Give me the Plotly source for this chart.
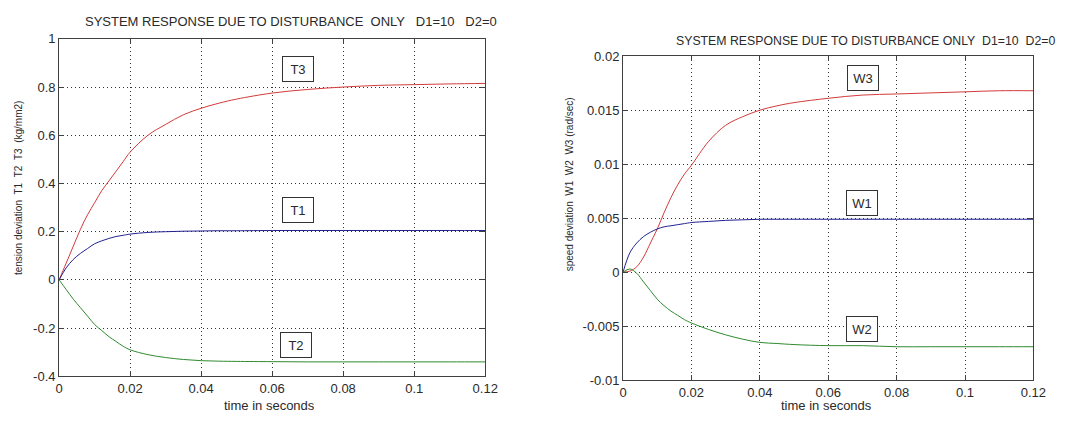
import plotly.graph_objects as go

# ---------------- data ----------------
t = [0, 0.002, 0.004, 0.006, 0.008, 0.01, 0.012, 0.014, 0.016, 0.018, 0.02,
     0.025, 0.03, 0.035, 0.04, 0.045, 0.05, 0.06, 0.07, 0.08, 0.09, 0.1, 0.11, 0.12]

T3 = [0, 0.07, 0.14, 0.21, 0.27, 0.32, 0.37, 0.41, 0.45, 0.49, 0.53,
      0.60, 0.645, 0.685, 0.712, 0.733, 0.75, 0.775, 0.79, 0.80, 0.807, 0.81, 0.813, 0.815]
T1 = [0, 0.05, 0.085, 0.11, 0.13, 0.15, 0.162, 0.172, 0.18, 0.185, 0.19,
      0.197, 0.2, 0.202, 0.203, 0.204, 0.204, 0.205, 0.205, 0.205, 0.205, 0.205, 0.205, 0.205]
T2 = [0, -0.04, -0.08, -0.115, -0.15, -0.185, -0.21, -0.235, -0.255, -0.275, -0.29,
      -0.31, -0.322, -0.33, -0.335, -0.337, -0.338, -0.339, -0.34, -0.34, -0.34, -0.34, -0.34, -0.34]

W3 = [0, 0.0001, 0.0005, 0.0014, 0.0027, 0.0040, 0.0055, 0.0069, 0.0081, 0.0091, 0.0099,
      0.0121, 0.0136, 0.0144, 0.0150, 0.0154, 0.0157, 0.0161, 0.0164, 0.0165, 0.0166, 0.0167, 0.0168, 0.0168]
W1 = [0, 0.0018, 0.0027, 0.0033, 0.0037, 0.0040, 0.0042, 0.0043, 0.0044, 0.0045, 0.0046,
      0.0047, 0.0048, 0.00485, 0.0049, 0.0049, 0.0049, 0.0049, 0.0049, 0.0049, 0.0049, 0.0049, 0.0049, 0.0049]
W2 = [0, 0.0003, -0.0001, -0.0009, -0.0017, -0.0025, -0.0031, -0.0036, -0.0040, -0.0044, -0.0047,
      -0.0053, -0.0058, -0.0062, -0.0065, -0.0066, -0.0067, -0.0068, -0.0068, -0.0069, -0.0069, -0.0069, -0.0069, -0.0069]

x_ticks = [0, 0.02, 0.04, 0.06, 0.08, 0.1, 0.12]
x_ticktext = ["0", "0.02", "0.04", "0.06", "0.08", "0.1", "0.12"]
yL_ticks = [-0.4, -0.2, 0, 0.2, 0.4, 0.6, 0.8, 1]
yL_ticktext = ["-0.4", "-0.2", "0", "0.2", "0.4", "0.6", "0.8", "1"]
yR_ticks = [-0.01, -0.005, 0, 0.005, 0.01, 0.015, 0.02]
yR_ticktext = ["-0.01", "-0.005", "0", "0.005", "0.01", "0.015", "0.02"]

RED, BLUE, GREEN = "#d23a3a", "#22228f", "#2f8a2f"
W, H = 1073, 421
FONT = "Liberation Sans, Arial, sans-serif"
TXT = "#2a2a2a"

fig = go.Figure()
for y, c in [(T3, RED), (T1, BLUE), (T2, GREEN)]:
    fig.add_trace(go.Scatter(x=t, y=y, mode="lines", line=dict(color=c, width=1),
                             line_shape="spline", xaxis="x", yaxis="y", showlegend=False))
for y, c in [(W3, RED), (W1, BLUE), (W2, GREEN)]:
    fig.add_trace(go.Scatter(x=t, y=y, mode="lines", line=dict(color=c, width=1),
                             line_shape="spline", xaxis="x2", yaxis="y2", showlegend=False))

def ax(**kw):
    d = dict(showline=True, linecolor="#404040", linewidth=1, mirror="allticks",
             ticks="inside", ticklen=5, tickcolor="#404040",
             showgrid=True, gridcolor="#333", griddash="1px,3px", gridwidth=1,
             zeroline=False, tickfont=dict(family=FONT, size=13, color=TXT))
    d.update(kw)
    return d

fig.update_layout(
    width=W, height=H, margin=dict(l=0, r=0, t=0, b=0),
    paper_bgcolor="white", plot_bgcolor="white",
    xaxis=ax(domain=[56 / W, 489 / W], range=[0, 0.12], tickvals=x_ticks, ticktext=x_ticktext, anchor="y"),
    yaxis=ax(domain=[1 - 383 / H, 1 - 33 / H], range=[-0.4, 1], tickvals=yL_ticks, ticktext=yL_ticktext, anchor="x"),
    xaxis2=ax(domain=[629 / W, 1046 / W], range=[0, 0.12], tickvals=x_ticks, ticktext=x_ticktext, anchor="y2"),
    yaxis2=ax(domain=[1 - 387 / H, 1 - 51 / H], range=[-0.01, 0.02], tickvals=yR_ticks, ticktext=yR_ticktext, anchor="x2"),
)

nb = "\u00a0"
def paper_text(text, x, y, size=13, angle=0):
    fig.add_annotation(text=text, x=x / W, y=1 - y / H, xref="paper", yref="paper",
                       showarrow=False, textangle=angle, xanchor="center", yanchor="middle",
                       font=dict(family=FONT, size=size, color=TXT))

paper_text("SYSTEM RESPONSE DUE TO DISTURBANCE" + nb * 2 + "ONLY" + nb * 3 + "D1=10" + nb * 3 + "D2=0", 292, 15)
paper_text("SYSTEM RESPONSE DUE TO DISTURBANCE ONLY" + nb * 2 + "D1=10" + nb * 2 + "D2=0", 875, 35, size=12.3)
paper_text("time in seconds", 270, 413)
paper_text("time in seconds", 836, 413)
paper_text("tension deviation" + nb * 2 + "T1" + nb * 2 + "T2" + nb * 2 + "T3" + nb * 2 + "(kg/mm2)", 15, 187, size=10, angle=-90)
paper_text("speed deviation" + nb * 2 + "W1" + nb * 2 + "W2" + nb * 2 + "W3 (rad/sec)", 575, 184, size=10, angle=-90)

def box(text, x, y, xr, yr):
    fig.add_annotation(text=text, x=x, y=y, xref=xr, yref=yr, showarrow=False,
                       width=26, height=20, borderpad=2,
                       bordercolor="#333", borderwidth=1, bgcolor="white",
                       font=dict(family=FONT, size=13, color=TXT))

box("T3", 0.0673, 0.876, "x", "y")
box("T1", 0.0673, 0.292, "x", "y")
box("T2", 0.0667, -0.268, "x", "y")
box("W3", 0.0702, 0.018, "x2", "y2")
box("W1", 0.0700, 0.0064, "x2", "y2")
box("W2", 0.0700, -0.0053, "x2", "y2")

fig.write_html("out.html")
